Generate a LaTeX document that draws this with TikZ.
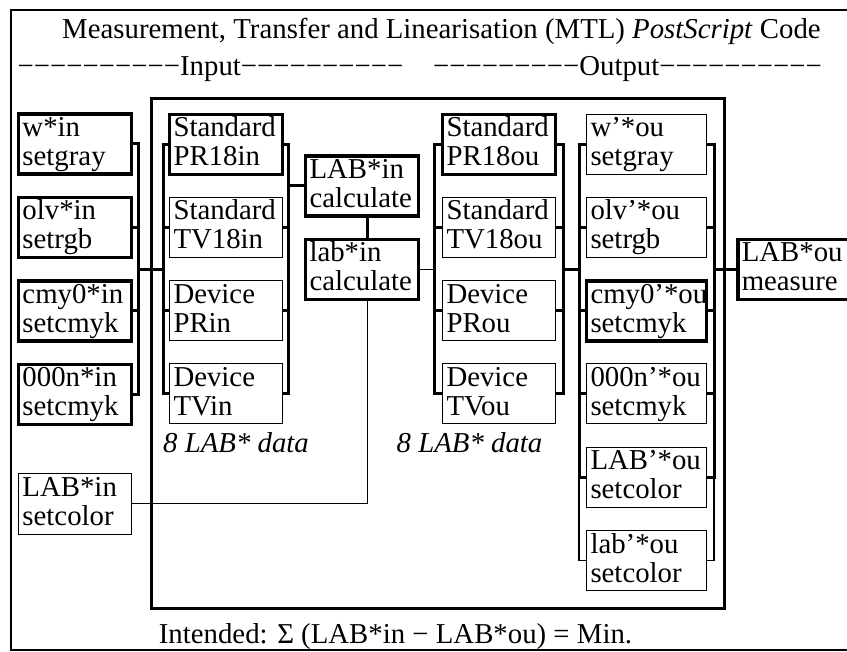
\documentclass[tikz,border=0pt]{standalone}
\usepackage{fontspec}
\setmainfont{Liberation Serif}
\newcommand\bxt[2]{\rule{0pt}{21.5pt}#1\\#2\rule[-7.5pt]{0pt}{7.5pt}}
\begin{document}
\begin{tikzpicture}[x=1pt,y=-1pt,
  every node/.style={font=\fontsize{28.8}{29}\selectfont},
  bx/.style={draw, line width=1pt, minimum height=60pt, inner xsep=4pt, inner ysep=0pt, text width=105pt, align=left, anchor=center},
  thk/.style={line width=3.5pt},
  wide/.style={text width=112pt},
  br/.style={line width=3pt},
  ln/.style={line width=1pt},
  lbl/.style={inner sep=0pt, anchor=base}]
\useasboundingbox (0,0) rectangle (847,652);
% frames
\draw[line width=2.5pt] (11,10) rectangle (860,650);
\draw[line width=3pt] (151.5,98.5) rectangle (724.5,608.5);
% titles
\node[lbl] (title) at (441.5,39) {Measurement, Transfer and Linearisation (MTL) \textit{PostScript} Code};
\node[lbl] (inp) at (210.5,76) {−−−−−−−−−−Input−−−−−−−−−−};
\node[lbl] (outp) at (627.5,76) {−−−−−−−−−Output−−−−−−−−−−};
\node[lbl] (data1) at (236,453) {\textit{8 LAB* data}};
\node[lbl] (data2) at (469.5,453) {\textit{8 LAB* data}};
\node[lbl] (goal) at (395.5,643) {Intended: Σ (LAB*in − LAB*ou) = Min.};
% input column
\node[bx,thk] (win) at (75,144) {\bxt{w*in}{setgray}};
\node[bx,thk] (olvin) at (75,227.5) {\bxt{olv*in}{setrgb}};
\node[bx,thk] (cmyin) at (75,311) {\bxt{cmy0*in}{setcmyk}};
\node[bx,thk] (nin) at (75,394.5) {\bxt{000n*in}{setcmyk}};
\node[bx] (setin) at (75,504) {\bxt{LAB*in}{setcolor}};
% standard in
\node[bx,thk] (spr) at (226,144.5) {\bxt{Standard}{PR18in}};
\node[bx] (stv) at (226,227.5) {\bxt{Standard}{TV18in}};
\node[bx] (dpr) at (226,311) {\bxt{Device}{PRin}};
\node[bx] (dtv) at (226,394) {\bxt{Device}{TVin}};
% calculate
\node[bx,thk] (Lcalc) at (362,186) {\bxt{LAB*in}{calculate}};
\node[bx,thk] (lcalc) at (362,269.5) {\bxt{lab*in}{calculate}};
% standard out
\node[bx,thk] (spro) at (499,144.5) {\bxt{Standard}{PR18ou}};
\node[bx] (stvo) at (499,227.5) {\bxt{Standard}{TV18ou}};
\node[bx] (dpro) at (499,311) {\bxt{Device}{PRou}};
\node[bx] (dtvo) at (499,394) {\bxt{Device}{TVou}};
% setcolor out
\node[bx,wide] (wo) at (646.5,144.5) {\bxt{w’*ou}{setgray}};
\node[bx,wide] (olvo) at (646.5,227.5) {\bxt{olv’*ou}{setrgb}};
\node[bx,wide,thk] (cmyo) at (646.5,311) {\bxt{cmy0’*ou}{setcmyk}};
\node[bx,wide] (no) at (646.5,394) {\bxt{000n’*ou}{setcmyk}};
\node[bx,wide] (Lo) at (646.5,477.5) {\bxt{LAB’*ou}{setcolor}};
\node[bx,wide] (lo) at (646.5,560.5) {\bxt{lab’*ou}{setcolor}};
% measure
\node[bx,thk] (meas) at (794.25,269.5) {\bxt{LAB*ou}{measure}};
% bracket coordinates
\coordinate (b1) at (138,0);
\coordinate (b2) at (163,0);
\coordinate (b3) at (288,0);
\coordinate (b4) at (434,0);
\coordinate (b5) at (563,0);
\coordinate (b6) at (579,0);
\coordinate (b7) at (714,0);
\coordinate (mid) at (0,269.5);
% input bracket
\draw[br] (win.east) -- (win.east -| b1) -- (nin.east -| b1) -- (nin.east);
\draw[br] (olvin.east) -- (olvin.east -| b1);
\draw[br] (cmyin.east) -- (cmyin.east -| b1);
\draw[br] (b1 |- mid) -- (b2 |- mid);
% standard in brackets
\draw[br] (spr.west) -- (spr.west -| b2) -- (dtv.west -| b2) -- (dtv.west);
\draw[br] (stv.west) -- (stv.west -| b2);
\draw[br] (dpr.west) -- (dpr.west -| b2);
\draw[br] (spr.east) -- (spr.east -| b3) -- (dtv.east -| b3) -- (dtv.east);
\draw[br] (stv.east) -- (stv.east -| b3);
\draw[br] (dpr.east) -- (dpr.east -| b3);
\draw[br] (Lcalc.west -| b3) -- (Lcalc.west);
\draw[br] ([xshift=5pt]Lcalc.south) -- ([xshift=5pt]lcalc.north);
\draw[ln] ([xshift=5pt]lcalc.south) |- (setin.east);
\draw[line width=1.5pt] (lcalc.east) -- (lcalc.east -| b4);
% standard out brackets
\draw[br] (spro.west) -- (spro.west -| b4) -- (dtvo.west -| b4) -- (dtvo.west);
\draw[br] (stvo.west) -- (stvo.west -| b4);
\draw[br] (dpro.west) -- (dpro.west -| b4);
\draw[br] (spro.east) -- (spro.east -| b5) -- (dtvo.east -| b5) -- (dtvo.east);
\draw[br] (stvo.east) -- (stvo.east -| b5);
\draw[br] (dpro.east) -- (dpro.east -| b5);
\draw[br] (b5 |- mid) -- (b6 |- mid);
% setcolor out brackets
\draw[br] (wo.west) -- (wo.west -| b6) -- (Lo.west -| b6) -- (Lo.west);
\draw[line width=1.5pt] (Lo.west -| b6) -- (lo.west -| b6) -- (lo.west);
\draw[br] (olvo.west) -- (olvo.west -| b6);
\draw[br] (cmyo.west) -- (cmyo.west -| b6);
\draw[br] (no.west) -- (no.west -| b6);
\draw[br] (wo.east) -- (wo.east -| b7) -- (Lo.east -| b7) -- (Lo.east);
\draw[line width=1.5pt] (Lo.east -| b7) -- (lo.east -| b7) -- (lo.east);
\draw[br] (olvo.east) -- (olvo.east -| b7);
\draw[br] (cmyo.east) -- (cmyo.east -| b7);
\draw[br] (no.east) -- (no.east -| b7);
\draw[br] (meas.west -| b7) -- (meas.west);
\end{tikzpicture}
\end{document}
